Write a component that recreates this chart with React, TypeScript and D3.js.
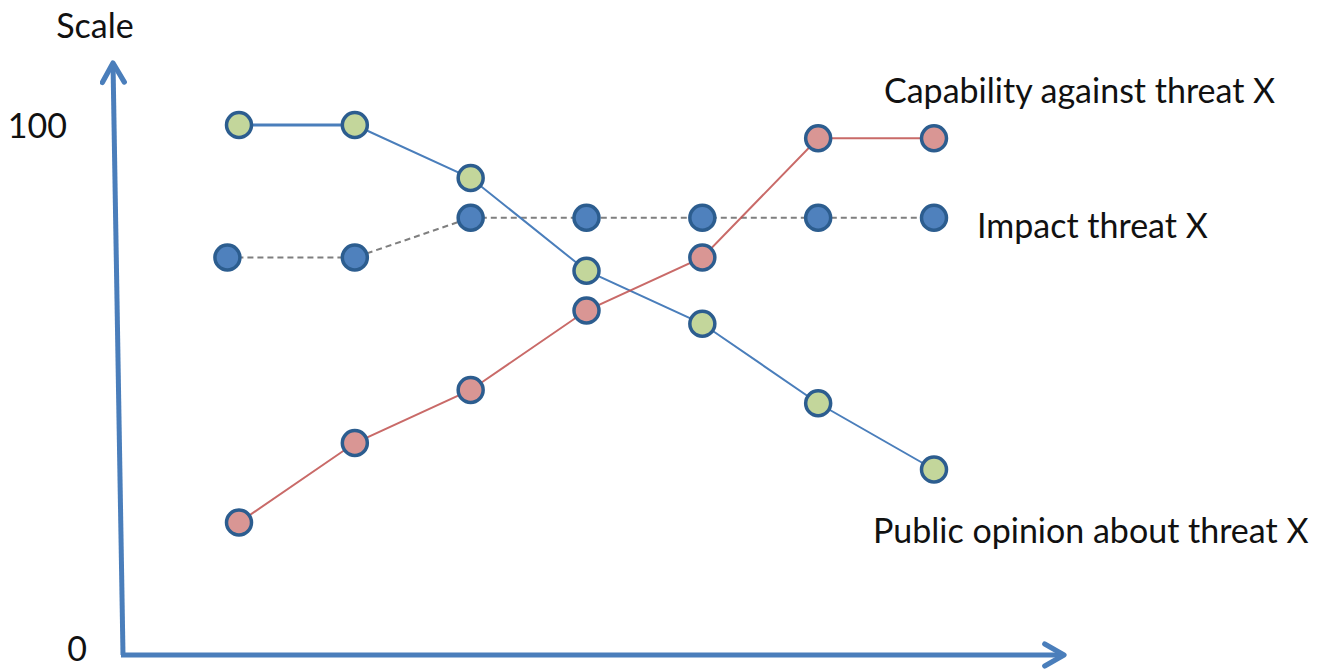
import React from "react";
import * as d3 from "d3";

const steps = [1, 2, 3, 4, 5, 6, 7];
const publicOpinion = [100, 100, 90, 72.5, 62.5, 47.5, 35];
const capability = [25, 40, 50, 65, 75, 97.5, 97.5];
const impactX = [0.9, 2, 3, 4, 5, 6, 7];
const impact = [75, 75, 82.5, 82.5, 82.5, 82.5, 82.5];
const yTicks = [0, 100];
const seriesLabels = ["Capability against threat X", "Impact threat X", "Public opinion about threat X"];

const W = 1323;
const H = 670;
const FONT = "Lato, 'Open Sans', sans-serif";
const AXIS = "#4A7EBB";
const MARK_STROKE = "#2C5D8F";
const FS = 34;

export default function App() {
  const x = d3.scaleLinear().domain([1, 7]).range([239, 934]);
  const y = d3.scaleLinear().domain([0, 100]).range([655, 125]);

  const line = d3
    .line<[number, number]>()
    .x((d) => x(d[0]))
    .y((d) => y(d[1]));

  const greenPts: [number, number][] = steps.map((s, i) => [s, publicOpinion[i]]);
  const redPts: [number, number][] = steps.map((s, i) => [s, capability[i]]);
  const bluePts: [number, number][] = impactX.map((s, i) => [s, impact[i]]);

  const x0 = 123;
  const y0 = y(0);

  const circles = (pts: [number, number][], fill: string) =>
    pts.map((p, i) => (
      <circle key={i} cx={x(p[0])} cy={y(p[1])} r={12.5} fill={fill} stroke={MARK_STROKE} strokeWidth={3.5} />
    ));

  return (
    <svg width={W} height={H} style={{ position: "absolute", left: 0, top: 0, background: "#fff" }}>
      <defs>
        <marker id="arr" viewBox="0 0 10 10" refX="8.5" refY="5" markerWidth="5.5" markerHeight="5.5" orient="auto" markerUnits="strokeWidth">
          <path d="M1.5,1 L8.5,5 L1.5,9" fill="none" stroke={AXIS} strokeWidth={1.9} strokeLinejoin="round" strokeLinecap="round" />
        </marker>
      </defs>
      {/* axes */}
      <path d={`M${x0},${y0} L113,63`} stroke={AXIS} strokeWidth={5} fill="none" markerEnd="url(#arr)" />
      <path d={`M${x0 - 2},${y0} L1064,${y0}`} stroke={AXIS} strokeWidth={5} fill="none" markerEnd="url(#arr)" />

      {/* y labels */}
      <text x={95} y={38} textAnchor="middle" fontFamily={FONT} fontSize={FS} fill="#111">Scale</text>
      {yTicks.map((t) => (
        <text key={t} x={t === 0 ? 87 : 67} y={y(t) + 12 + (t === 0 ? -6 : 1)} textAnchor="end" fontFamily={FONT} fontSize={FS} fill="#111">
          {t}
        </text>
      ))}

      {/* lines */}
      <path d={line(bluePts) || ""} stroke="#7F7F7F" strokeWidth={2} strokeDasharray="6,4" fill="none" />
      <path d={line(greenPts.slice(0, 2)) || ""} stroke="#4A7EBB" strokeWidth={3} fill="none" />
      <path d={line(greenPts.slice(1)) || ""} stroke="#4A7EBB" strokeWidth={2} fill="none" />
      <path d={line(redPts) || ""} stroke="#C0504D" strokeWidth={2} fill="none" opacity={0.85} />

      {circles(bluePts, "#4F81BD")}
      {circles(greenPts, "#C3D69B")}
      {circles(redPts, "#D99694")}

      {/* series labels */}
      <text x={884} y={103} fontFamily={FONT} fontSize={FS} fill="#111">{seriesLabels[0]}</text>
      <text x={977} y={238} fontFamily={FONT} fontSize={FS} fill="#111">{seriesLabels[1]}</text>
      <text x={873} y={543} fontFamily={FONT} fontSize={FS} fill="#111">{seriesLabels[2]}</text>
    </svg>
  );
}
